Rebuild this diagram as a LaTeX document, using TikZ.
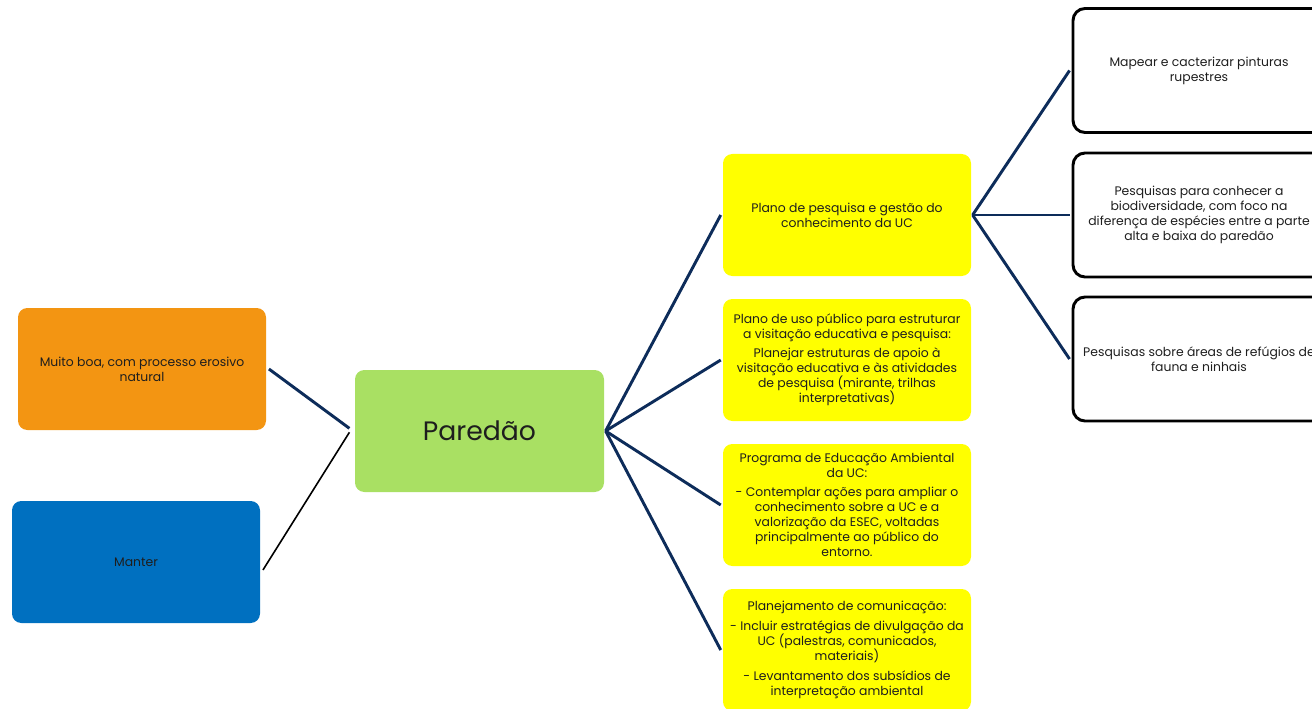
\documentclass[tikz,border=0pt]{standalone}
\usepackage{fontspec}
\setmainfont{Poppins}
\usepackage{tikz}
\usetikzlibrary{positioning}
\definecolor{laranja}{HTML}{F39512}
\definecolor{azul}{HTML}{0070C0}
\definecolor{verde}{HTML}{A9E063}
\definecolor{amarelo}{HTML}{FFFF00}
\definecolor{marinho}{HTML}{0D2C5A}
\definecolor{texto}{HTML}{1E1E1E}

\begin{document}
\begin{tikzpicture}[x=0.75pt,y=-0.75pt,
  caixa/.style={rectangle,rounded corners=7pt,align=center,text=texto,
    font=\fontsize{9.3}{11.2}\selectfont,inner sep=1pt},
  raiz/.style={caixa,fill=verde,minimum width=186.75pt,minimum height=91.5pt,
    font=\fontsize{20}{24}\selectfont},
  estado/.style={caixa,minimum width=186pt,minimum height=91.5pt},
  acao/.style={caixa,fill=amarelo,minimum width=186pt,minimum height=91.5pt},
  pesq/.style={caixa,draw=black,line width=2.2pt,rounded corners=9pt,
    minimum width=189pt,minimum height=93pt},
  liga/.style={draw=marinho,line width=2.2pt},
  fina/.style={draw=black,line width=1.2pt}]
\useasboundingbox (0,0) rectangle (1312,709);
\clip (0,0) rectangle (1312,709);
\node[raiz] (par) at (479.5,431) {Paredão};
\node[estado,fill=laranja] (cond) at (142,369) {Muito boa, com processo erosivo\\natural};
\node[estado,fill=azul] (manter) at (136,562) {Manter};
\node[acao] (a1) at (847,215) {Plano de pesquisa e gestão do\\conhecimento da UC};
\node[acao] (a2) at (847,360) {Plano de uso público para estruturar\\a visitação educativa e pesquisa:\\[3pt]
  Planejar estruturas de apoio à\\visitação educativa e às atividades\\de pesquisa (mirante, trilhas\\interpretativas)};
\node[acao] (a3) at (847,505) {Programa de Educação Ambiental\\da UC:\\[3pt]
  - Contemplar ações para ampliar o\\conhecimento sobre a UC e a\\valorização da ESEC, voltadas\\principalmente ao público do\\entorno.};
\node[acao] (a4) at (847,650) {Planejamento de comunicação:\\[4pt]
  - Incluir estratégias de divulgação da\\UC (palestras, comunicados,\\materiais)\\[4pt]
  - Levantamento dos subsídios de\\interpretação ambiental};
\node[pesq] (p1) at (1199,70.5) {Mapear e cacterizar pinturas\\rupestres};
\node[pesq] (p2) at (1199,215) {Pesquisas para conhecer a\\biodiversidade, com foco na\\diferença de espécies entre a parte\\alta e baixa do paredão};
\node[pesq] (p3) at (1199,359) {Pesquisas sobre áreas de refúgios de\\fauna e ninhais};
% ligacoes
\draw[liga] ([xshift=2pt]cond.east) -- ([xshift=-4pt,yshift=2pt]par.west);
\draw[fina] ([xshift=2pt,yshift=-6pt]manter.east) -- ([xshift=-4pt,yshift=-1pt]par.west);
\foreach \a in {a1,a2,a3,a4}
  \draw[liga] ([xshift=1pt]par.east) -- ([xshift=-1.5pt]\a.west);
\foreach \p in {p1,p2,p3}
  \draw[liga] ([xshift=1pt]a1.east) -- ([xshift=-1.5pt]\p.west);
\end{tikzpicture}
\end{document}
